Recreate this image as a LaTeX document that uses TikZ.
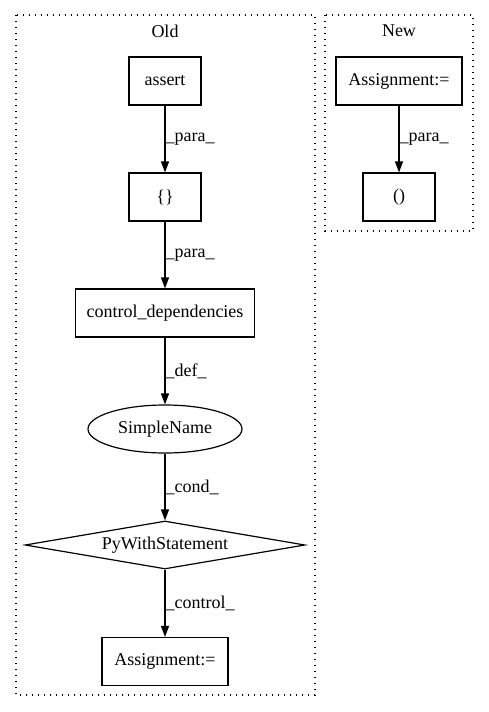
\documentclass[tikz,border=0pt]{standalone}
\usepackage{fontspec}
\setmainfont{Liberation Serif}
\usetikzlibrary{arrows.meta,shapes.geometric}

\begin{document}
\begin{tikzpicture}[x=1pt,y=-1pt,line width=1.2pt,
	every node/.style={font=\fontsize{18}{20}\selectfont},
	box/.style={draw,rectangle,minimum height=48pt,inner sep=0pt},
	oval/.style={draw,ellipse,minimum width=154pt,minimum height=48pt,inner sep=0pt},
	decision/.style={draw,diamond,aspect=5.8,minimum width=280pt,minimum height=48pt,inner sep=0pt},
	arr/.style={-{Triangle[length=11pt,width=8pt]}},
	lbl/.style={anchor=west,inner sep=0pt},
	cluster/.style={line width=1.3pt,dash pattern=on 1.3pt off 4.7pt}]
	\useasboundingbox (0,0) rectangle (488,712);
	% clusters
	\draw [cluster] (16,15) rectangle (315,695);
	\node (oldtitle) at (165,31) {Old};
	\draw [cluster] (325,15) rectangle (473,231);
	\node (newtitle) at (399,31) {New};
	% old
	\node [box,minimum width=72pt] (assert) at (165,81) {assert};
	\node [box,minimum width=72pt] (braces) at (165,197) {\{\}};
	\node [box,minimum width=179pt] (ctrldep) at (165,313) {control\_dependencies};
	\node [oval] (simplename) at (165,429) {SimpleName};
	\node [decision] (withstmt) at (165,545) {PyWithStatement};
	\node [box,minimum width=126pt] (assignold) at (165,661.5) {Assignment:=};
	\draw [arr] (assert) -- node[lbl]{\_para\_} (braces);
	\draw [arr] (braces) -- node[lbl]{\_para\_} (ctrldep);
	\draw [arr] (ctrldep) -- node[lbl]{\_def\_} (simplename);
	\draw [arr] (simplename) -- node[lbl]{\_cond\_} (withstmt);
	\draw [arr] (withstmt) -- node[lbl]{\_control\_} (assignold);
	% new
	\node [box,minimum width=126pt] (assignnew) at (399,81) {Assignment:=};
	\node [box,minimum width=72pt] (parens) at (399,197) {()};
	\draw [arr] (assignnew) -- node[lbl]{\_para\_} (parens);
\end{tikzpicture}
\end{document}
